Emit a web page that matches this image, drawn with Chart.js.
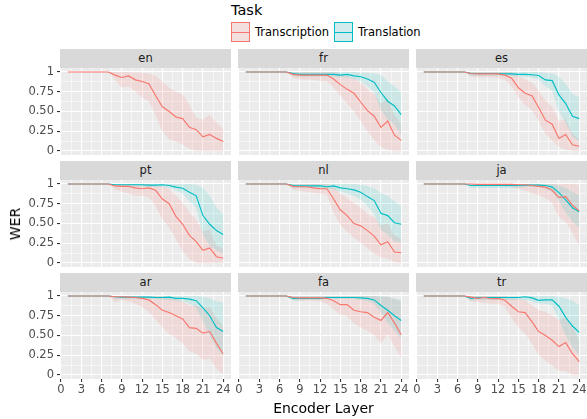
<!DOCTYPE html>
<html>
<head>
<meta charset="utf-8">
<script src="https://cdn.jsdelivr.net/npm/chart.js@4.4.1/dist/chart.umd.min.js"></script>
<style>
  body { margin: 0; background: #fff; font-family: "DejaVu Sans", sans-serif; }
  #wrap { position: relative; width: 587px; height: 419px; overflow: hidden; }
  canvas { position: absolute; }
  .strip { position: absolute; background: #D9D9D9; color: #1A1A1A; font-size: 11.5px;
           text-align: center; line-height: 19px; height: 19px; }
  .title { position: absolute; color: #000; font-size: 14px; white-space: nowrap; }
  .key { position: absolute; width: 17px; height: 18px; box-sizing: content-box; }
  .key i { position: absolute; left: 0; right: 0; top: 8.5px; height: 1.2px; }
  .keylab { position: absolute; font-size: 11.5px; color: #000; line-height: 14px; }
</style>
</head>
<body>
<div id="wrap"></div>
<script>
// Encoder layers on the x axis
const layers = [1,2,3,4,5,6,7,8,9,10,11,12,13,14,15,16,17,18,19,20,21,22,23,24];

// Axis breaks (major) and minor grid positions
const xMajor = [0,3,6,9,12,15,18,21,24];
const xMinor = [1.5,4.5,7.5,10.5,13.5,16.5,19.5,22.5];
const yMajor = [0,0.25,0.5,0.75,1];
const yMinor = [0.125,0.375,0.625,0.875];
const yTickLabels = ['0','0.25','0.50','0.75','1'];

// en (transcription only)
const en_trc    = [1,1,1,1,1,1,1,0.96,0.93,0.95,0.90,0.88,0.85,0.70,0.56,0.50,0.43,0.41,0.30,0.27,0.18,0.21,0.16,0.12];
const en_trc_lo = [1,1,1,1,1,1,1,0.90,0.80,0.82,0.75,0.68,0.63,0.45,0.25,0.15,0.12,0.08,0.03,0,0,0,0,0];
const en_trc_hi = [1,1,1,1,1,1,1,1,1,1,0.99,0.99,0.98,0.95,0.88,0.80,0.75,0.72,0.58,0.42,0.40,0.46,0.36,0.28];

// fr
const fr_trc    = [1,1,1,1,1,1,1,0.97,0.96,0.96,0.96,0.96,0.96,0.91,0.84,0.78,0.73,0.62,0.51,0.44,0.30,0.38,0.20,0.135];
const fr_trc_lo = [1,1,1,1,1,1,1,0.93,0.90,0.90,0.90,0.89,0.88,0.80,0.70,0.60,0.50,0.38,0.25,0.14,0.05,0.02,0,0];
const fr_trc_hi = [1,1,1,1,1,1,1,1,1,1,1,1,1,1,0.98,0.95,0.92,0.86,0.78,0.72,0.60,0.66,0.45,0.35];
const fr_trl    = [1,1,1,1,1,1,1,0.98,0.97,0.97,0.97,0.97,0.97,0.97,0.96,0.97,0.95,0.94,0.91,0.87,0.74,0.63,0.57,0.46];
const fr_trl_lo = [1,1,1,1,1,1,1,0.95,0.94,0.94,0.94,0.94,0.94,0.94,0.93,0.93,0.91,0.88,0.82,0.74,0.52,0.40,0.34,0.20];
const fr_trl_hi = [1,1,1,1,1,1,1,1,1,1,1,1,1,1,1,1,1,0.99,0.99,0.98,0.96,0.88,0.82,0.74];

// es
const es_trc    = [1,1,1,1,1,1,1,0.98,0.975,0.975,0.975,0.975,0.96,0.92,0.80,0.73,0.70,0.55,0.39,0.34,0.16,0.21,0.08,0.06];
const es_trc_lo = [1,1,1,1,1,1,1,0.94,0.93,0.93,0.93,0.92,0.90,0.82,0.68,0.58,0.52,0.38,0.22,0.13,0.05,0.02,0,0];
const es_trc_hi = [1,1,1,1,1,1,1,1,1,1,1,1,1,1,0.95,0.90,0.87,0.76,0.64,0.56,0.38,0.40,0.22,0.15];
const es_trl    = [1,1,1,1,1,1,1,0.98,0.98,0.98,0.98,0.98,0.975,0.975,0.97,0.97,0.965,0.955,0.90,0.89,0.71,0.60,0.44,0.41];
const es_trl_lo = [1,1,1,1,1,1,1,0.95,0.95,0.95,0.95,0.95,0.95,0.95,0.94,0.94,0.93,0.90,0.82,0.76,0.50,0.35,0.18,0.12];
const es_trl_hi = [1,1,1,1,1,1,1,1,1,1,1,1,1,1,1,1,1,1,0.99,0.98,0.94,0.85,0.72,0.68];

// pt
const pt_trc    = [1,1,1,1,1,1,1,0.975,0.97,0.97,0.95,0.94,0.95,0.92,0.81,0.75,0.59,0.49,0.35,0.27,0.16,0.19,0.08,0.06];
const pt_trc_lo = [1,1,1,1,1,1,1,0.93,0.90,0.88,0.85,0.85,0.83,0.72,0.55,0.45,0.30,0.15,0.05,0,0,0,0,0];
const pt_trc_hi = [1,1,1,1,1,1,1,1,1,1,1,1,1,0.99,0.97,0.94,0.85,0.76,0.64,0.55,0.40,0.42,0.22,0.18];
const pt_trl    = [1,1,1,1,1,1,1,0.99,0.99,0.99,0.99,0.99,0.985,0.985,0.99,0.98,0.96,0.945,0.895,0.85,0.60,0.49,0.41,0.36];
const pt_trl_lo = [1,1,1,1,1,1,1,0.97,0.97,0.97,0.97,0.96,0.96,0.96,0.96,0.95,0.92,0.88,0.78,0.70,0.35,0.22,0.16,0.12];
const pt_trl_hi = [1,1,1,1,1,1,1,1,1,1,1,1,1,1,1,1,1,1,1,0.99,0.95,0.85,0.70,0.62];

// nl
const nl_trc    = [1,1,1,1,1,1,1,0.97,0.965,0.965,0.95,0.94,0.94,0.81,0.67,0.60,0.50,0.47,0.41,0.34,0.23,0.27,0.14,0.13];
const nl_trc_lo = [1,1,1,1,1,1,1,0.93,0.91,0.90,0.89,0.88,0.86,0.64,0.48,0.40,0.32,0.26,0.19,0.12,0.07,0.06,0.01,0];
const nl_trc_hi = [1,1,1,1,1,1,1,1,1,1,1,1,1,0.96,0.88,0.82,0.76,0.70,0.63,0.58,0.48,0.50,0.35,0.30];
const nl_trl    = [1,1,1,1,1,1,1,0.98,0.975,0.975,0.975,0.975,0.965,0.975,0.95,0.94,0.925,0.895,0.84,0.79,0.63,0.60,0.51,0.49];
const nl_trl_lo = [1,1,1,1,1,1,1,0.95,0.95,0.95,0.95,0.94,0.93,0.93,0.90,0.88,0.85,0.80,0.72,0.62,0.42,0.36,0.27,0.26];
const nl_trl_hi = [1,1,1,1,1,1,1,1,1,1,1,1,1,1,1,1,1,0.99,0.97,0.95,0.88,0.85,0.78,0.72];

// ja
const ja_trc    = [1,1,1,1,1,1,1,1,0.995,0.995,0.995,0.995,0.995,0.995,0.99,0.99,0.98,0.97,0.96,0.92,0.83,0.84,0.73,0.66];
const ja_trc_lo = [1,1,1,1,1,1,1,0.98,0.98,0.98,0.98,0.98,0.97,0.96,0.94,0.92,0.88,0.86,0.82,0.76,0.58,0.52,0.38,0.22];
const ja_trc_hi = [1,1,1,1,1,1,1,1,1,1,1,1,1,1,1,1,1,1,1,1,1,1,1,0.99];
const ja_trl    = [1,1,1,1,1,1,1,0.98,0.98,0.98,0.98,0.98,0.98,0.98,0.98,0.985,0.985,0.985,0.98,0.96,0.89,0.80,0.70,0.65];
const ja_trl_lo = [1,1,1,1,1,1,1,0.95,0.95,0.95,0.95,0.95,0.95,0.95,0.95,0.96,0.96,0.96,0.94,0.90,0.78,0.64,0.52,0.45];
const ja_trl_hi = [1,1,1,1,1,1,1,1,1,1,1,1,1,1,1,1,1,1,1,1,0.98,0.95,0.90,0.86];

// ar
const ar_trc    = [1,1,1,1,1,1,1,0.99,0.99,0.985,0.98,0.97,0.95,0.89,0.82,0.79,0.75,0.71,0.60,0.59,0.53,0.55,0.40,0.27];
const ar_trc_lo = [1,1,1,1,1,1,1,0.92,0.95,0.93,0.90,0.86,0.80,0.70,0.60,0.52,0.47,0.40,0.30,0.27,0.19,0.21,0.08,0.01];
const ar_trc_hi = [1,1,1,1,1,1,1,1,1,1,1,1,1,1,1,0.98,0.96,0.93,0.88,0.88,0.84,0.86,0.72,0.62];
const ar_trl    = [1,1,1,1,1,1,1,0.99,0.985,0.985,0.985,0.985,0.985,0.98,0.98,0.985,0.97,0.97,0.96,0.94,0.85,0.75,0.60,0.55];
const ar_trl_lo = [1,1,1,1,1,1,1,0.96,0.96,0.96,0.96,0.96,0.96,0.96,0.95,0.95,0.94,0.93,0.90,0.85,0.68,0.50,0.34,0.24];
const ar_trl_hi = [1,1,1,1,1,1,1,1,1,1,1,1,1,1,1,1,1,1,1,1,0.99,0.97,0.93,0.92];

// fa
const fa_trc    = [1,1,1,1,1,1,1,0.98,0.975,0.975,0.975,0.975,0.97,0.94,0.89,0.89,0.82,0.80,0.79,0.73,0.69,0.79,0.66,0.51];
const fa_trc_lo = [1,1,1,1,1,1,1,0.95,0.94,0.94,0.94,0.93,0.90,0.83,0.77,0.74,0.65,0.60,0.56,0.50,0.40,0.52,0.36,0.22];
const fa_trc_hi = [1,1,1,1,1,1,1,1,1,1,1,1,1,1,1,1,1,1,1,1,0.99,0.99,0.96,0.92];
const fa_trl    = [1,1,1,1,1,1,1,0.97,0.97,0.97,0.97,0.97,0.98,0.98,0.98,0.98,0.98,0.975,0.97,0.95,0.88,0.82,0.75,0.69];
const fa_trl_lo = [1,1,1,1,1,1,1,0.94,0.94,0.95,0.95,0.95,0.96,0.96,0.96,0.96,0.96,0.95,0.94,0.90,0.78,0.66,0.56,0.46];
const fa_trl_hi = [1,1,1,1,1,1,1,1,1,1,1,1,1,1,1,1,1,1,1,1,1,0.99,0.97,0.95];

// tr
const tr_trc    = [1,1,1,1,1,1,1,0.985,0.97,0.98,0.965,0.97,0.945,0.87,0.80,0.79,0.675,0.55,0.50,0.44,0.36,0.41,0.27,0.17];
const tr_trc_lo = [1,1,1,1,1,1,1,0.93,0.92,0.91,0.90,0.90,0.86,0.72,0.60,0.52,0.40,0.26,0.18,0.12,0.05,0.05,0,0];
const tr_trc_hi = [1,1,1,1,1,1,1,1,1,1,1,1,1,0.98,0.96,0.95,0.88,0.82,0.80,0.75,0.70,0.72,0.60,0.45];
const tr_trl    = [1,1,1,1,1,1,1,0.97,0.98,0.98,0.98,0.98,0.98,0.98,0.98,0.99,0.975,0.945,0.95,0.95,0.87,0.73,0.62,0.54];
const tr_trl_lo = [1,1,1,1,1,1,1,0.94,0.95,0.95,0.95,0.95,0.95,0.95,0.95,0.95,0.93,0.90,0.90,0.88,0.70,0.50,0.35,0.25];
const tr_trl_hi = [1,1,1,1,1,1,1,1,1,1,1,1,1,1,1,1,1,1,1,1,0.99,0.97,0.94,0.88];

// facet order (row by row)
const panels = [
  { lang: 'en', trc: [en_trc, en_trc_lo, en_trc_hi], trl: null },
  { lang: 'fr', trc: [fr_trc, fr_trc_lo, fr_trc_hi], trl: [fr_trl, fr_trl_lo, fr_trl_hi] },
  { lang: 'es', trc: [es_trc, es_trc_lo, es_trc_hi], trl: [es_trl, es_trl_lo, es_trl_hi] },
  { lang: 'pt', trc: [pt_trc, pt_trc_lo, pt_trc_hi], trl: [pt_trl, pt_trl_lo, pt_trl_hi] },
  { lang: 'nl', trc: [nl_trc, nl_trc_lo, nl_trc_hi], trl: [nl_trl, nl_trl_lo, nl_trl_hi] },
  { lang: 'ja', trc: [ja_trc, ja_trc_lo, ja_trc_hi], trl: [ja_trl, ja_trl_lo, ja_trl_hi] },
  { lang: 'ar', trc: [ar_trc, ar_trc_lo, ar_trc_hi], trl: [ar_trl, ar_trl_lo, ar_trl_hi] },
  { lang: 'fa', trc: [fa_trc, fa_trc_lo, fa_trc_hi], trl: [fa_trl, fa_trl_lo, fa_trl_hi] },
  { lang: 'tr', trc: [tr_trc, tr_trc_lo, tr_trc_hi], trl: [tr_trl, tr_trl_lo, tr_trl_hi] }
];

const RED = '#F8766D', RED_FILL = 'rgba(248,118,109,0.15)';
const CYAN = '#00BFC4', CYAN_FILL = 'rgba(0,191,196,0.13)';

// panel geometry (px)
const panelLeft = [60, 238, 416], panelTop = [68, 180, 292];
const PW = 171, PH = 87, PAD = 10, Y_AXIS_W = 60, X_AXIS_H = 24;

const wrap = document.getElementById('wrap');
const xGrid = xMajor.concat(xMinor).sort((a, b) => a - b);
const yGrid = yMajor.concat(yMinor).sort((a, b) => a - b);

const panelBg = {
  id: 'panelBg',
  beforeDraw(chart) {
    const a = chart.chartArea, ctx = chart.ctx;
    ctx.save();
    ctx.fillStyle = '#EBEBEB';
    ctx.fillRect(a.left, a.top, a.right - a.left, a.bottom - a.top);
    ctx.restore();
  }
};

function pts(arr) {
  return layers.map((x, k) => ({ x: x, y: arr[k] }));
}

function ribbonSets(series, color, fillColor, order) {
  return [
    { data: pts(series[1]), borderColor: 'transparent', borderWidth: 0, pointRadius: 0, fill: false, order: order },
    { data: pts(series[2]), borderColor: 'transparent', borderWidth: 0, pointRadius: 0, fill: '-1',
      backgroundColor: fillColor, order: order },
  ];
}

function lineSet(series, color) {
  return { data: pts(series[0]), borderColor: color, borderWidth: 1.15, pointRadius: 0, fill: false,
           tension: 0, order: 0 };
}

panels.forEach((p, i) => {
  const r = Math.floor(i / 3), c = i % 3;
  const showY = c === 0, showX = r === 2;

  // strip label
  const strip = document.createElement('div');
  strip.className = 'strip';
  strip.style.left = panelLeft[c] + 'px';
  strip.style.top = (panelTop[r] - 19) + 'px';
  strip.style.width = PW + 'px';
  strip.textContent = p.lang;
  wrap.appendChild(strip);

  const canvas = document.createElement('canvas');
  const w = PW + 2 * PAD + (showY ? Y_AXIS_W : 0);
  const h = PH + 2 * PAD + (showX ? X_AXIS_H : 0);
  canvas.width = w;
  canvas.height = h;
  canvas.style.width = w + 'px';
  canvas.style.height = h + 'px';
  canvas.style.left = (panelLeft[c] - PAD - (showY ? Y_AXIS_W : 0)) + 'px';
  canvas.style.top = (panelTop[r] - PAD) + 'px';
  wrap.appendChild(canvas);

  let datasets = ribbonSets(p.trc, RED, RED_FILL, 3);
  if (p.trl) datasets = datasets.concat(ribbonSets(p.trl, CYAN, CYAN_FILL, 2));
  datasets.push(lineSet(p.trc, RED));
  if (p.trl) datasets.push(lineSet(p.trl, CYAN));

  const tickFont = { family: 'DejaVu Sans', size: 11.5 };

  new Chart(canvas, {
    type: 'line',
    data: { datasets: datasets },
    plugins: [panelBg],
    options: {
      responsive: false,
      animation: false,
      events: [],
      layout: { padding: PAD },
      plugins: { legend: { display: false }, tooltip: { enabled: false } },
      scales: {
        x: {
          type: 'linear',
          min: -0.15, max: 25.15,
          afterBuildTicks: s => { s.ticks = xGrid.map(v => ({ value: v })); },
          afterFit: s => { s.height = showX ? X_AXIS_H : 0; },
          border: { display: false },
          grid: {
            color: '#FFFFFF',
            lineWidth: ctx => xMajor.includes(ctx.tick.value) ? 1.1 : 0.55,
            drawTicks: showX,
            tickLength: 3,
            tickWidth: 1.1,
            tickColor: ctx => xMajor.includes(ctx.tick.value) ? '#333333' : 'transparent'
          },
          ticks: {
            display: showX,
            autoSkip: false,
            maxRotation: 0,
            padding: 1,
            color: '#4D4D4D',
            font: tickFont,
            callback: v => xMajor.includes(v) ? String(v) : ''
          }
        },
        y: {
          type: 'linear',
          min: -0.05, max: 1.05,
          afterBuildTicks: s => { s.ticks = yGrid.map(v => ({ value: v })); },
          afterFit: s => { s.width = showY ? Y_AXIS_W : 0; },
          border: { display: false },
          grid: {
            color: '#FFFFFF',
            lineWidth: ctx => yMajor.includes(ctx.tick.value) ? 1.1 : 0.55,
            drawTicks: showY,
            tickLength: 3,
            tickWidth: 1.1,
            tickColor: ctx => yMajor.includes(ctx.tick.value) ? '#333333' : 'transparent'
          },
          ticks: {
            display: showY,
            autoSkip: false,
            padding: 3,
            color: '#4D4D4D',
            font: tickFont,
            callback: v => {
              const k = yMajor.indexOf(v);
              return k >= 0 ? yTickLabels[k] : '';
            }
          }
        }
      }
    }
  });
});

// axis titles
const xTitle = document.createElement('div');
xTitle.className = 'title';
xTitle.textContent = 'Encoder Layer';
xTitle.style.left = panelLeft[0] + 'px';
xTitle.style.width = (panelLeft[2] + PW - panelLeft[0]) + 'px';
xTitle.style.textAlign = 'center';
xTitle.style.top = '400px';
wrap.appendChild(xTitle);

const yTitle = document.createElement('div');
yTitle.className = 'title';
yTitle.textContent = 'WER';
yTitle.style.left = '15px';
yTitle.style.top = ((panelTop[0] + panelTop[2] + PH) / 2) + 'px';
yTitle.style.transform = 'translate(-50%, -50%) rotate(-90deg)';
wrap.appendChild(yTitle);

// legend
const legTitle = document.createElement('div');
legTitle.className = 'title';
legTitle.textContent = 'Task';
legTitle.style.left = '231px';
legTitle.style.top = '2px';
legTitle.style.fontSize = '14.5px';
wrap.appendChild(legTitle);

const legendItems = [
  { label: 'Transcription', color: RED, fill: 'rgba(248,118,109,0.15)', x: 231 },
  { label: 'Translation', color: CYAN, fill: 'rgba(0,191,196,0.13)', x: 334 }
];
legendItems.forEach(it => {
  const key = document.createElement('div');
  key.className = 'key';
  key.style.left = it.x + 'px';
  key.style.top = '22px';
  key.style.border = '1.1px solid ' + it.color;
  key.style.background = 'linear-gradient(' + it.fill + ',' + it.fill + '), #F2F2F2';
  const ln = document.createElement('i');
  ln.style.background = it.color;
  key.appendChild(ln);
  wrap.appendChild(key);

  const lab = document.createElement('div');
  lab.className = 'keylab';
  lab.textContent = it.label;
  lab.style.left = (it.x + 24) + 'px';
  lab.style.top = '25px';
  wrap.appendChild(lab);
});
</script>
</body>
</html>
